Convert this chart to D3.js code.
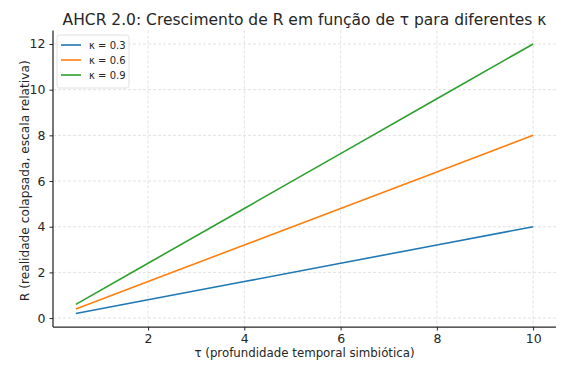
<!DOCTYPE html>
<html>
<head>
<meta charset="utf-8">
<script src="https://cdn.jsdelivr.net/npm/d3@7"></script>
<style>
  body { margin: 0; background: #fff; }
  text { font-family: "DejaVu Sans", sans-serif; fill: #262626; }
</style>
</head>
<body>
<svg id="chart" width="565" height="366"></svg>
<script>
// Data
const tau = [0.5, 2, 4, 6, 8, 10];
const kappas = ["0.3", "0.6", "0.9"];
const r03 = [0.2, 0.8, 1.6, 2.4, 3.2, 4.0];
const r06 = [0.4, 1.6, 3.2, 4.8, 6.4, 8.0];
const r09 = [0.6, 2.4, 4.8, 7.2, 9.6, 12.0];
const xTicks = [2, 4, 6, 8, 10];
const yTicks = [0, 2, 4, 6, 8, 10, 12];
const colors = ["#1f77b4", "#ff7f0e", "#2ca02c"];

const series = [r03, r06, r09].map((vals, i) => ({
	k: kappas[i],
	color: colors[i],
	pts: vals.map((v, j) => ({x: tau[j], y: v}))
}));

const svg = d3.select("#chart");
const plotLeft = 53, plotRight = 556, plotTop = 30.5, plotBottom = 327;

const x = d3.scaleLinear().domain([0.025, 10.475]).range([plotLeft, plotRight]);
const y = d3.scaleLinear().domain([-0.39, 12.59]).range([plotBottom, plotTop]);

// grid
const grid = svg.append("g");
grid.selectAll(".gx").data(xTicks).enter().append("line")
	.attr("x1", d => x(d)).attr("x2", d => x(d))
	.attr("y1", plotTop).attr("y2", plotBottom)
	.attr("stroke", "#dadada").attr("stroke-width", 0.8)
	.attr("stroke-dasharray", "3,2");
grid.selectAll(".gy").data(yTicks).enter().append("line")
	.attr("x1", plotLeft).attr("x2", plotRight)
	.attr("y1", d => y(d)).attr("y2", d => y(d))
	.attr("stroke", "#dadada").attr("stroke-width", 0.8)
	.attr("stroke-dasharray", "3,2");

// axes
const xAxis = svg.append("g")
	.attr("transform", `translate(0,${plotBottom})`)
	.call(d3.axisBottom(x).tickValues(xTicks).tickSize(3.5).tickPadding(4).tickFormat(d3.format("d")));
const yAxis = svg.append("g")
	.attr("transform", `translate(${plotLeft},0)`)
	.call(d3.axisLeft(y).tickValues(yTicks).tickSize(3.5).tickPadding(4).tickFormat(d3.format("d")));
xAxis.select(".domain").attr("d", `M${plotLeft},0H${plotRight}`);
yAxis.select(".domain").attr("d", `M0,${plotBottom}V${plotTop}`);
[xAxis, yAxis].forEach(a => {
	a.select(".domain").attr("stroke", "#262626").attr("stroke-width", 1.25);
	a.selectAll(".tick line").attr("stroke", "#262626").attr("stroke-width", 1);
	a.selectAll(".tick text").style("font-size", "12.5px").attr("fill", "#262626");
});

// lines
const line = d3.line().x(d => x(d.x)).y(d => y(d.y));
svg.append("g").selectAll("path").data(series).enter().append("path")
	.attr("d", d => line(d.pts))
	.attr("fill", "none")
	.attr("stroke", d => d.color)
	.attr("stroke-width", 1.6);

// title and labels
svg.append("text")
	.attr("x", (plotLeft + plotRight) / 2).attr("y", 24.5)
	.attr("text-anchor", "middle")
	.style("font-size", "15.5px")
	.text("AHCR 2.0: Crescimento de R em função de τ para diferentes κ");
svg.append("text")
	.attr("x", (plotLeft + plotRight) / 2).attr("y", 357)
	.attr("text-anchor", "middle")
	.style("font-size", "11.8px")
	.text("τ (profundidade temporal simbiótica)");
svg.append("text")
	.attr("transform", `translate(28.5,${(plotTop + plotBottom) / 2 + 2}) rotate(-90)`)
	.attr("text-anchor", "middle")
	.style("font-size", "12.2px")
	.text("R (realidade colapsada, escala relativa)");

// legend
const lg = svg.append("g").attr("transform", "translate(57,35)");
lg.append("rect")
	.attr("width", 72).attr("height", 53).attr("rx", 2.5)
	.attr("fill", "#fff").attr("fill-opacity", 0.8)
	.attr("stroke", "#d8d8d8").attr("stroke-width", 0.8);
const items = lg.selectAll(".item").data(series).enter().append("g")
	.attr("transform", (d, i) => `translate(0,${10 + i * 15})`);
items.append("line")
	.attr("x1", 4).attr("x2", 24)
	.attr("stroke", d => d.color).attr("stroke-width", 1.6);
items.append("text")
	.attr("x", 32).attr("y", 3.5)
	.style("font-size", "10px")
	.text(d => "κ = " + d.k);
</script>
</body>
</html>
